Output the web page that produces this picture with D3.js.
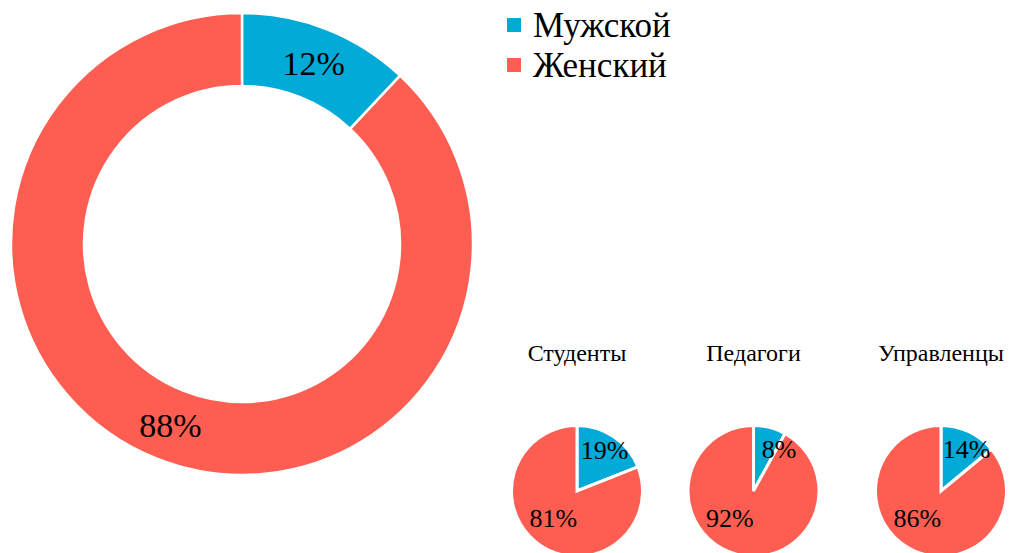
<!DOCTYPE html>
<html>
<head>
<script src="https://cdn.jsdelivr.net/npm/d3@7"></script>
</head>
<body style="margin:0">
<svg id="chart" width="1014" height="553"></svg>
<script>
// data
const genders = ["Мужской", "Женский"]
const colors = ["#02AAD7", "#FE5E52"]
const totalShares = [12, 88]
const groups = ["Студенты", "Педагоги", "Управленцы"]
const groupShares = [
  [19, 81],
  [8, 92],
  [14, 86]
]

const serifFace = '"Liberation Serif"'

const svg = d3.select("#chart")
const pie = d3.pie().sort(null).value(d => d)
const color = d3.scaleOrdinal().domain(d3.range(genders.length)).range(colors)

// text goes straight onto the svg, no wrapping groups
function label(x, y, str, size, anchor) {
  svg.append("text")
    .attr("x", x)
    .attr("y", y)
    .attr("text-anchor", anchor || "middle")
    .style("font-family", serifFace)
    .style("font-size", size + "px")
    .text(str)
}

// big donut
const bigC = [242, 244]
const bigArc = d3.arc().innerRadius(158).outerRadius(231)

svg.append("g").attr("transform", `translate(${bigC})`)
  .selectAll("path")
  .data(pie(totalShares))
  .enter()
  .append("path")
  .attr("d", bigArc)
  .attr("fill", (d, i) => color(i))
  .attr("stroke", "#fff")
  .attr("stroke-width", 2.5)

pie(totalShares).forEach(d => {
  const [cx, cy] = bigArc.centroid(d)
  label(bigC[0] + cx, bigC[1] + cy + 12, d.data + "%", 34)
})

// legend
const rowY = d3.scalePoint().domain(genders).range([25, 65])

svg.selectAll("rect.key")
  .data(genders)
  .enter()
  .append("rect")
  .attr("class", "key")
  .attr("x", 507)
  .attr("y", d => rowY(d) - 7)
  .attr("width", 14)
  .attr("height", 14)
  .attr("fill", (d, i) => color(i))

genders.forEach(g => label(533, rowY(g) + 12, g, 35, "start"))

// small pies
const r = 65.5
const pieY = 491
const pieX = d3.scaleOrdinal().domain(groups).range([577, 753.5, 941])
const smallArc = d3.arc().innerRadius(0).outerRadius(r)

// excel-like "best fit" label spot: small slice near rim, big slice lower-left
function labelPos(d) {
  const mid = (d.startAngle + d.endAngle) / 2
  const big = d.endAngle - d.startAngle > Math.PI
  const a = big ? Math.max(mid, 3.86) : Math.max(mid, 0.55)
  const dist = big ? 0.55 * r : 0.75 * r
  return [dist * Math.sin(a), -dist * Math.cos(a)]
}

groups.forEach((g, gi) => {
  const cx = pieX(g)

  svg.append("g").attr("transform", `translate(${cx}, ${pieY})`)
    .selectAll("path")
    .data(pie(groupShares[gi]))
    .enter()
    .append("path")
    .attr("d", smallArc)
    .attr("fill", (d, i) => color(i))
    .attr("stroke", "#fff")
    .attr("stroke-width", 3)

  label(cx, pieY - 130, g, 24)

  pie(groupShares[gi]).forEach(d => {
    const [lx, ly] = labelPos(d)
    label(cx + lx, pieY + ly + 9, d.data + "%", 26)
  })
})
</script>
</body>
</html>
